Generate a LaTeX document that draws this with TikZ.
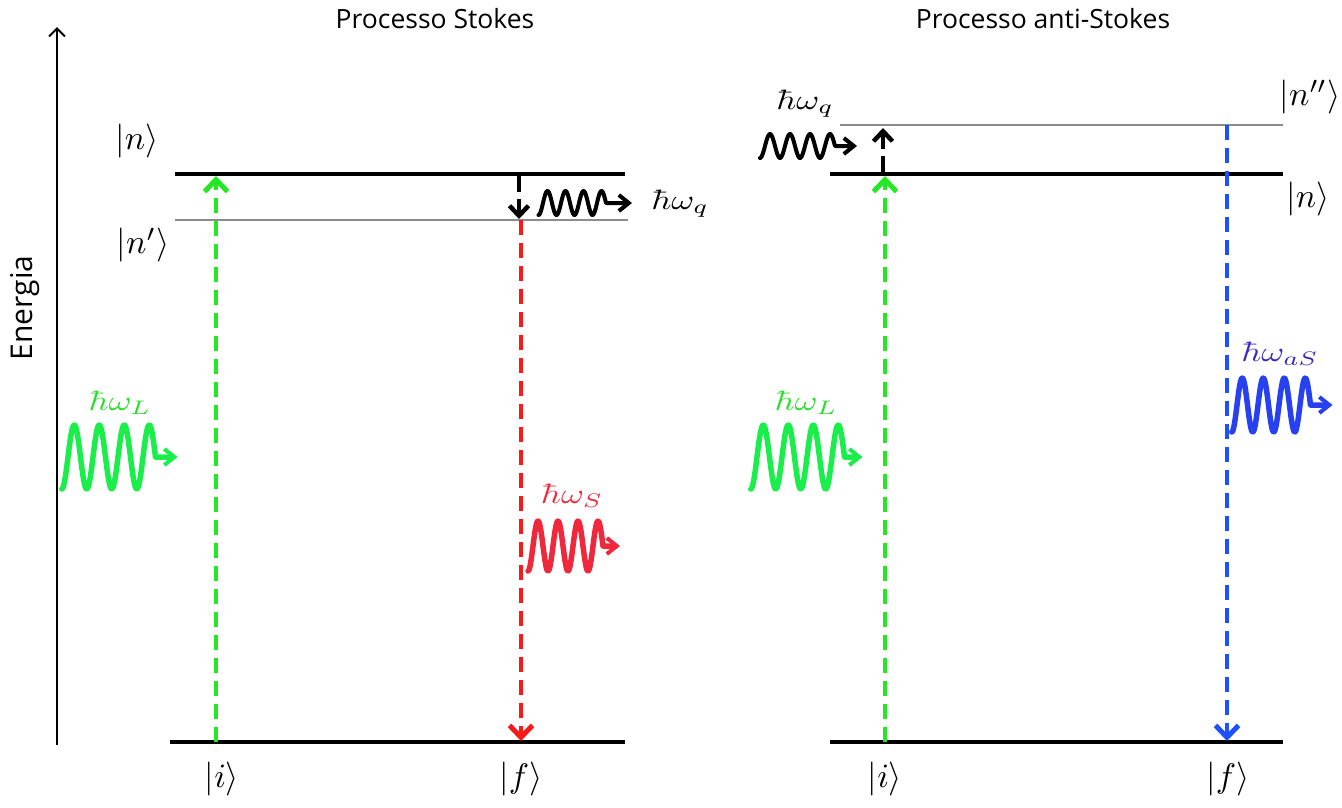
\documentclass[tikz,border=0pt]{standalone}
\usepackage{graphicx}
\usepackage{fontspec}
\newfontfamily\titlefont{Open Sans}
\usetikzlibrary{arrows.meta}
\definecolor{greendash}{RGB}{35,232,35}
\definecolor{greenwave}{RGB}{25,238,75}
\definecolor{greentext}{RGB}{40,222,40}
\definecolor{reddash}{RGB}{250,25,25}
\definecolor{redwave}{RGB}{240,40,60}
\definecolor{bluedash}{RGB}{30,80,255}
\definecolor{bluewave}{RGB}{40,65,240}
\definecolor{bluetext}{RGB}{60,40,190}
\definecolor{levelgray}{RGB}{140,140,140}
\newcommand\wavearrow[7]{%
  \draw[#1, line width=#7, line cap=round, line join=round,
        -{Straight Barb[length=10pt,width=16pt,line width=4pt]}]
    plot[domain=-90:1260, samples=140] ({#2+\x/360*#4}, {#3-#5*sin(\x)}) -- ++(#6,0);}
\newcommand\ketlab[1]{\scalebox{3.4}{$#1$}}
\newcommand\hwlab[1]{\scalebox{3.5}[2.8]{$#1$}}
\begin{document}
\begin{tikzpicture}[x=1pt,y=-1pt,
  level/.style={line width=4pt, black},
  sublevel/.style={line width=2pt, levelgray},
  dasharrow/.style={line width=4pt, dash pattern=on 15pt off 8pt,
    -{Straight Barb[length=12pt,width=23pt,line width=5pt]}},
  shortarrow/.style={line width=4pt, black, dash pattern=on 18pt off 7pt,
    -{Straight Barb[length=10pt,width=19pt,line width=4.5pt]}},
  ket/.style={inner sep=0pt},
  hw/.style={inner sep=0pt},
  title/.style={inner sep=0pt, font=\titlefont\fontsize{26.5}{32}\selectfont},
]
\useasboundingbox (0,0) rectangle (1342,807);

% titles and axis
\node[title] (t1) at (435,19) {Processo Stokes};
\node[title] (t2) at (1043,19) {Processo anti-Stokes};
\coordinate (ax0) at (57,745);
\coordinate (ax1) at (57,27);
\draw[line width=2pt, -{Straight Barb[length=8pt,width=16pt]}] (ax0) -- (ax1);
\node[title, font=\titlefont\fontsize{30}{36}\selectfont, rotate=90] (en) at (25,308) {Energia};

% ---------- Stokes ----------
\coordinate (Ln0) at (175,174); \coordinate (Ln1) at (625,174);
\coordinate (Lp0) at (175,220); \coordinate (Lp1) at (628,220);
\coordinate (Li0) at (170,742); \coordinate (Li1) at (625,742);
\draw[level] (Ln0) -- (Ln1);
\draw[sublevel] (Lp0) -- (Lp1);
\draw[level] (Li0) -- (Li1);

\coordinate (gLa) at (216,742); \coordinate (gLb) at (216,176);
\draw[dasharrow, greendash] (gLa) -- (gLb);
\coordinate (rLa) at (521,220); \coordinate (rLb) at (521,741);
\draw[dasharrow, reddash] (rLa) -- (rLb);
\coordinate (kLa) at (519,174); \coordinate (kLb) at (519,219);
\draw[shortarrow] (kLa) -- (kLb);

\node[ket] (Lnlab) at (137,141) {\ketlab{|n\rangle}};
\node[ket] (Lplab) at (143,245) {\ketlab{|n'\rangle}};
\node[ket] (Lilab) at (222,779) {\ketlab{|i\rangle}};
\node[ket] (Lflab) at (521,779) {\ketlab{|f\rangle}};

\wavearrow{greenwave}{68}{457}{25}{32}{22}{5.5pt}
\node[hw, text=greentext] (Lwl) at (120,403) {\hwlab{\hbar\omega_L}};
\wavearrow{black}{543}{203}{18}{12}{26}{4pt}
\node[hw] (Lwq) at (680,204) {\hwlab{\hbar\omega_q}};
\wavearrow{redwave}{533}{546}{20}{25}{17}{5.5pt}
\node[hw, text=redwave] (Lws) at (572,496) {\hwlab{\hbar\omega_S}};

% ---------- anti-Stokes ----------
\coordinate (Rpp0) at (840,125); \coordinate (Rpp1) at (1283,125);
\coordinate (Rn0) at (830,174); \coordinate (Rn1) at (1283,174);
\coordinate (Ri0) at (830,742); \coordinate (Ri1) at (1283,742);
\draw[sublevel] (Rpp0) -- (Rpp1);
\draw[level] (Rn0) -- (Rn1);
\draw[level] (Ri0) -- (Ri1);

\coordinate (gRa) at (885,742); \coordinate (gRb) at (885,176);
\draw[dasharrow, greendash] (gRa) -- (gRb);
\coordinate (bRa) at (1227,125); \coordinate (bRb) at (1227,741);
\draw[dasharrow, bluedash] (bRa) -- (bRb);
\coordinate (kRa) at (883,174); \coordinate (kRb) at (883,128);
\draw[shortarrow] (kRa) -- (kRb);

\node[ket] (Rpplab) at (1310,97) {\ketlab{|n''\rangle}};
\node[ket] (Rnlab) at (1308,199) {\ketlab{|n\rangle}};
\node[ket] (Rilab) at (885,779) {\ketlab{|i\rangle}};
\node[ket] (Rflab) at (1228,779) {\ketlab{|f\rangle}};

\wavearrow{greenwave}{757}{457}{25}{32}{18}{5.5pt}
\node[hw, text=greentext] (Rwl) at (806,403) {\hwlab{\hbar\omega_L}};
\wavearrow{black}{765}{146}{20}{12}{22}{4pt}
\node[hw] (Rwq) at (805,104) {\hwlab{\hbar\omega_q}};
\wavearrow{bluewave}{1237}{405}{21}{27}{22}{5.5pt}
\node[hw, text=bluetext] (Rwas) at (1280,354) {\hwlab{\hbar\omega_{aS}}};
\end{tikzpicture}
\end{document}
